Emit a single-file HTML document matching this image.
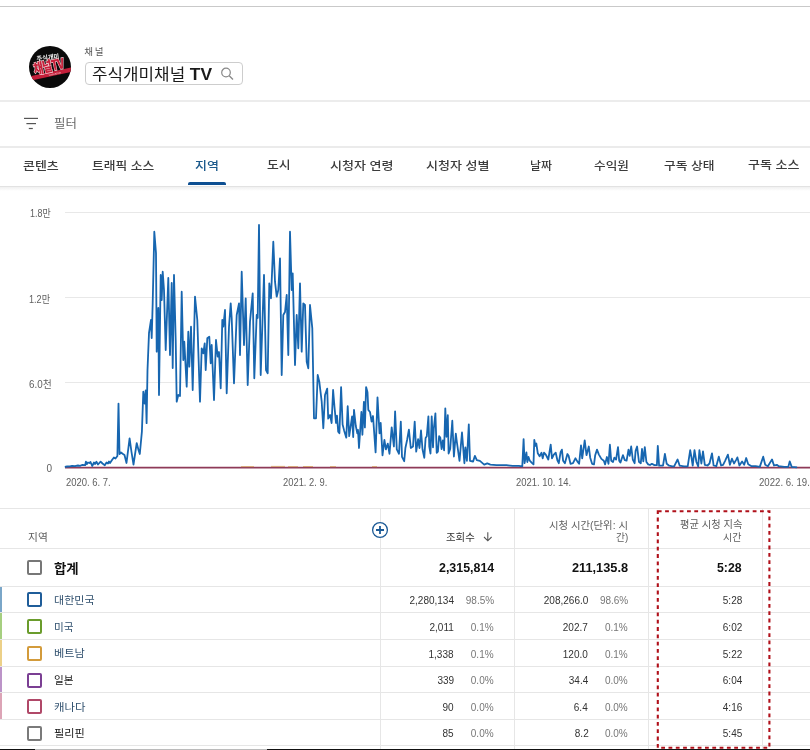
<!DOCTYPE html>
<html><head><meta charset="utf-8">
<style>
*{margin:0;padding:0;box-sizing:border-box}
html,body{width:810px;height:750px;overflow:hidden;background:#fff}
body{position:relative;font-family:"Liberation Sans","Noto Sans CJK KR",sans-serif;color:#222}
.a{position:absolute}
.t{position:absolute;white-space:nowrap;line-height:20px}
.hl{position:absolute;left:0;width:810px}
.gl{position:absolute;left:65px;width:745px;height:1px;background:#e8e8e8}
.cb{position:absolute;left:27px;width:15px;height:15px;border:2px solid #777;border-radius:2px}
.vl{position:absolute;width:1px;background:#e6e6e6}
</style></head><body>
<div class="hl" style="top:6px;height:1px;background:#c9c9c9"></div>

<svg class="a" style="left:28px;top:45px" width="44" height="44" viewBox="0 0 44 44">
<defs><clipPath id="lc"><circle cx="22" cy="22" r="21"/></clipPath></defs>
<circle cx="22" cy="22" r="21" fill="#0a0a0a"/>
<g clip-path="url(#lc)">
<polygon points="0,31.8 44,22.4 44,26.8 0,36.2" fill="#c41f3a"/>
<text x="27" y="29.6" font-size="2.6" fill="#f3c0c8" text-anchor="middle" font-family="Liberation Sans" transform="rotate(-12 27 28.6)">www.ant.tv</text>
</g>
<text x="19.8" y="14.6" font-size="6.2" font-weight="700" fill="#f4f4f4" text-anchor="middle" font-family="Noto Sans CJK KR" transform="rotate(-7 19.8 11.5)">주식개미</text>
<g transform="translate(20.6 21.5) rotate(-12) scale(1 1.35)">
<text x="0" y="3.6" font-size="10.5" font-weight="900" fill="#c8203a" stroke="#f2d0d5" stroke-width="1" paint-order="stroke" text-anchor="middle" font-family="Noto Sans CJK KR" letter-spacing="-0.6">채널TV</text>
</g>
</svg>

<div class="a" style="left:85px;top:62px;width:158px;height:23px;border:1px solid #cdcdcd;border-radius:4px;background:#fff"></div>
<svg class="a" style="left:219px;top:66px" width="16" height="16" viewBox="0 0 16 16">
<circle cx="7" cy="6.5" r="4.3" fill="none" stroke="#888" stroke-width="1.2"/>
<line x1="10.2" y1="9.7" x2="14" y2="13.5" stroke="#888" stroke-width="1.3"/>
</svg>

<div class="hl" style="top:100px;height:2px;background:#ececec"></div>

<svg class="a" style="left:22px;top:114px" width="20" height="18" viewBox="0 0 20 18">
<rect x="2" y="3.8" width="14" height="1.2" fill="#555"/>
<rect x="4.4" y="9" width="9.6" height="1.2" fill="#555"/>
<rect x="6.8" y="13.9" width="4" height="1.2" fill="#555"/>
</svg>

<div class="hl" style="top:146px;height:2px;background:#ebebeb"></div>

<div class="a" style="left:188px;top:182px;width:38px;height:3px;background:#0d4f92;border-radius:2px 2px 0 0"></div>
<div class="hl" style="top:185.5px;height:1.5px;background:#e2e2e2"></div>
<div class="hl" style="top:187px;height:4px;background:linear-gradient(#f0f0f0,#fff)"></div>

<div class="gl" style="top:212px"></div>
<div class="gl" style="top:297px"></div>
<div class="gl" style="top:382px"></div>
<svg class="a" style="left:0;top:0" width="810" height="500" viewBox="0 0 810 500">
<line x1="65" y1="467.6" x2="810" y2="467.6" stroke="#8e3a58" stroke-width="1.6"/>
<path d="M241 466.6h13M271 466.4h14M288 466.6h10M303 466.5h10M330 466.6h6M372 466.6h5" stroke="#d39b5b" stroke-width="1" opacity="0.8"/>
<path d="M64.8 466.8 L67.0 466.5 L70.0 466.3 L72.0 465.8 L75.0 466.2 L78.0 465.5 L80.0 465.8 L82.0 465.0 L85.2 465.2 L85.9 461.7 L87.0 464.0 L88.0 462.5 L89.5 463.0 L90.5 462.0 L92.2 466.0 L94.0 462.5 L95.0 464.0 L96.4 461.7 L98.0 464.5 L100.6 461.7 L102.5 463.5 L104.8 465.2 L106.5 462.5 L108.0 463.5 L109.0 461.5 L110.0 463.0 L112.0 460.0 L113.9 457.5 L115.5 458.5 L117.4 456.0 L118.5 403.6 L119.5 454.0 L121.0 452.5 L123.0 454.0 L124.5 455.0 L126.5 463.0 L129.6 438.3 L131.5 452.0 L133.5 464.5 L136.7 443.1 L138.5 450.0 L139.8 454.0 L141.9 431.6 L143.3 391.7 L144.7 403.6 L145.7 390.3 L146.6 423.2 L147.5 370.0 L149.0 333.0 L151.0 320.0 L151.7 338.0 L152.7 303.0 L154.3 231.7 L156.0 253.0 L156.7 351.7 L158.3 308.0 L159.0 395.0 L160.7 275.0 L161.7 300.0 L162.7 271.7 L164.0 290.0 L165.7 350.0 L168.3 278.0 L170.0 355.0 L171.7 283.0 L172.7 368.0 L174.0 275.0 L175.7 340.0 L176.7 401.7 L178.3 395.0 L180.0 396.0 L181.7 291.7 L183.3 360.0 L184.3 341.7 L186.7 386.7 L188.3 331.7 L189.3 366.7 L191.0 326.7 L192.7 390.0 L195.0 296.7 L197.3 320.0 L200.0 401.7 L201.7 348.3 L203.3 353.3 L204.7 343.3 L205.7 370.0 L207.3 338.3 L209.3 336.7 L210.7 363.3 L211.7 345.0 L214.0 400.0 L216.0 340.0 L217.7 356.7 L219.0 352.0 L220.7 388.3 L222.3 320.0 L223.3 326.7 L225.0 310.0 L226.7 393.3 L229.0 326.7 L230.7 303.3 L231.7 318.3 L234.0 383.3 L236.7 315.0 L239.0 303.3 L240.0 355.0 L241.7 271.7 L244.0 345.0 L245.7 298.3 L247.7 385.0 L250.0 321.7 L252.7 293.3 L254.3 378.3 L256.7 315.0 L257.7 318.0 L259.0 225.0 L260.7 375.0 L262.7 315.0 L264.0 275.0 L266.0 370.0 L267.7 373.3 L269.3 283.3 L271.0 298.3 L273.3 241.7 L275.0 281.7 L276.7 296.7 L278.3 290.0 L280.0 258.3 L281.7 375.0 L283.3 315.0 L285.0 312.0 L286.7 295.0 L288.3 355.0 L290.0 231.7 L291.7 290.0 L292.7 273.3 L295.0 365.0 L296.7 315.0 L298.3 348.3 L300.0 283.3 L301.7 351.7 L303.3 303.3 L305.0 305.0 L306.7 361.7 L308.3 368.3 L310.0 305.0 L312.3 328.3 L314.0 418.3 L316.0 418.3 L317.7 375.0 L319.3 381.7 L321.7 401.7 L323.3 428.3 L325.0 395.0 L327.2 388.6 L328.2 418.7 L330.1 415.0 L331.6 423.0 L333.1 390.0 L334.5 407.0 L336.0 423.0 L337.0 415.7 L338.2 431.8 L339.4 433.3 L341.1 387.1 L342.6 424.5 L344.1 430.4 L346.3 437.7 L347.7 406.2 L349.2 436.2 L352.1 416.5 L353.2 437.0 L354.0 409.9 L355.8 426.0 L357.3 433.3 L358.0 430.0 L359.0 448.0 L361.4 412.0 L362.4 434.8 L363.9 401.8 L364.9 427.4 L366.1 387.1 L367.5 392.3 L368.3 409.9 L370.0 412.0 L371.6 421.6 L373.0 416.0 L375.6 452.4 L377.5 397.4 L379.5 433.3 L380.7 423.0 L382.5 455.3 L384.4 440.0 L385.9 449.4 L387.8 443.6 L389.5 453.8 L391.7 427.4 L393.9 446.5 L395.1 411.3 L396.8 449.4 L399.0 453.8 L400.8 421.6 L402.0 456.8 L404.2 461.2 L405.4 448.0 L407.1 440.0 L408.9 429.6 L410.8 448.0 L413.0 446.5 L414.7 421.6 L416.2 451.6 L418.1 439.2 L419.5 448.0 L421.0 430.5 L422.5 449.2 L424.3 457.8 L425.6 438.0 L426.8 436.2 L428.4 416.4 L429.3 446.7 L430.5 453.5 L431.7 416.4 L433.0 447.3 L433.8 428.8 L435.4 413.3 L436.7 452.8 L437.9 451.6 L439.1 436.2 L440.3 437.5 L441.6 449.1 L442.8 440.5 L444.1 450.4 L445.3 408.4 L446.5 436.8 L447.8 415.2 L448.6 453.5 L450.2 449.0 L452.3 420.7 L453.9 456.5 L455.8 433.7 L457.0 443.0 L459.5 460.9 L462.0 432.5 L464.4 463.3 L465.4 447.3 L466.9 460.9 L468.8 424.4 L470.0 460.9 L473.1 461.5 L474.9 455.9 L476.8 460.2 L479.9 460.9 L484.2 464.6 L487.3 463.3 L490.4 464.6 L496.5 465.2 L506.4 465.2 L512.6 465.8 L518.8 465.8 L522.3 466.3 L523.6 439.1 L524.6 463.2 L526.4 452.3 L527.3 462.0 L528.5 457.0 L529.8 460.7 L531.6 462.6 L533.5 464.4 L534.3 439.8 L535.3 445.9 L536.3 443.5 L537.8 453.3 L539.6 456.4 L541.5 452.7 L542.7 458.3 L544.0 452.7 L545.8 454.6 L547.0 457.0 L548.3 459.5 L550.7 444.7 L552.0 458.3 L553.8 454.6 L555.7 452.7 L557.5 460.7 L558.8 463.2 L560.6 452.1 L561.9 449.6 L563.1 460.7 L564.9 463.2 L567.4 454.0 L568.6 455.8 L570.5 463.8 L573.0 463.2 L575.4 458.3 L577.3 461.4 L579.1 463.8 L581.0 445.3 L582.2 458.3 L584.7 440.4 L586.5 455.2 L588.8 446.5 L590.2 457.7 L592.1 463.8 L594.0 464.4 L595.2 455.2 L597.0 449.6 L598.9 454.6 L601.4 458.9 L603.8 460.7 L605.1 464.4 L606.9 457.0 L608.5 463.8 L609.9 444.7 L611.2 460.7 L613.0 462.0 L614.3 457.7 L616.1 459.5 L618.0 447.2 L619.2 460.7 L620.4 462.6 L622.9 455.2 L624.8 460.1 L626.6 460.7 L628.5 449.6 L629.7 455.8 L631.2 446.5 L632.8 459.5 L634.6 463.2 L635.6 450.9 L637.1 446.5 L639.0 462.0 L640.8 463.2 L642.0 449.0 L643.3 461.4 L644.8 447.2 L646.4 462.0 L648.2 464.4 L650.0 465.0 L651.9 463.8 L654.4 465.1 L656.9 465.1 L657.8 445.9 L659.1 465.7 L663.0 465.7 L664.9 454.0 L666.7 463.8 L669.2 465.7 L672.3 466.3 L674.1 466.3 L677.6 459.5 L679.7 465.7 L684.0 466.3 L687.7 466.3 L690.2 450.2 L691.4 457.0 L692.7 465.7 L694.5 450.2 L696.4 462.0 L698.2 466.3 L699.4 450.2 L701.4 463.5 L703.0 451.3 L704.8 464.8 L707.5 465.5 L709.5 463.5 L712.0 453.3 L713.6 465.5 L716.3 466.2 L718.8 456.7 L721.1 465.5 L723.1 464.8 L725.1 460.8 L727.9 454.6 L729.9 464.8 L731.9 458.7 L734.0 463.5 L736.0 460.1 L737.4 457.4 L739.4 465.5 L742.1 461.4 L744.2 464.8 L746.2 458.0 L748.2 464.2 L751.6 466.2 L755.7 466.2 L759.8 466.9 L763.2 456.7 L765.2 464.8 L767.9 466.2 L772.0 459.4 L774.0 465.5 L776.8 464.8 L778.8 466.2 L784.2 466.9 L788.3 466.9 L789.7 461.4 L791.7 466.9 L797.1 467.3" fill="none" stroke="#1766b0" stroke-width="1.8" stroke-linejoin="round"/>
</svg>

<div class="hl" style="top:508px;height:1px;background:#e6e6e6"></div>
<div class="hl" style="top:548px;height:1px;background:#e6e6e6"></div>
<div class="hl" style="top:586px;height:1px;background:#e6e6e6"></div>
<div class="hl" style="top:612px;height:1px;background:#e6e6e6"></div>
<div class="hl" style="top:639px;height:1px;background:#e6e6e6"></div>
<div class="hl" style="top:666px;height:1px;background:#e6e6e6"></div>
<div class="hl" style="top:692px;height:1px;background:#e6e6e6"></div>
<div class="hl" style="top:719px;height:1px;background:#e6e6e6"></div>
<div class="hl" style="top:745px;height:1px;background:#e6e6e6"></div>
<div class="vl" style="left:380px;top:509px;height:240px"></div>
<div class="vl" style="left:514px;top:509px;height:240px"></div>
<div class="vl" style="left:648px;top:509px;height:240px"></div>
<div class="vl" style="left:762px;top:509px;height:240px"></div>

<svg class="a" style="left:371px;top:521px" width="18" height="18" viewBox="0 0 18 18">
<circle cx="9" cy="9" r="7.4" fill="#fff" stroke="#1c5a96" stroke-width="1.3"/>
<path d="M9 5v8M5 9h8" stroke="#1c5a96" stroke-width="1.8"/>
</svg>
<svg class="a" style="left:482px;top:530px" width="12" height="12" viewBox="0 0 12 12">
<path d="M5.8 2.2v8.4M2 7l3.8 3.8L9.6 7" fill="none" stroke="#555" stroke-width="1.1"/>
</svg>

<div class="cb" style="top:560px"></div>
<div class="a" style="left:0;top:587px;width:2px;height:25px;background:#7aa6c8"></div>
<div class="cb" style="top:592.2px;border-color:#1f5d99"></div>
<div class="a" style="left:0;top:613px;width:2px;height:26px;background:#a6cf80"></div>
<div class="cb" style="top:619.3px;border-color:#6a9c2c"></div>
<div class="a" style="left:0;top:640px;width:2px;height:26px;background:#ecd088"></div>
<div class="cb" style="top:645.6px;border-color:#d39b3b"></div>
<div class="a" style="left:0;top:667px;width:2px;height:25px;background:#bc94c8"></div>
<div class="cb" style="top:672.5px;border-color:#7b3f93"></div>
<div class="a" style="left:0;top:693px;width:2px;height:26px;background:#dca4b6"></div>
<div class="cb" style="top:699.0px;border-color:#b04868"></div>
<div class="cb" style="top:725.5px;border-color:#7a7a7a"></div>
<div class="t" style="left:84.30px;top:42.40px;font-size:9.5px;color:#555;letter-spacing:1.6px;">채널</div>
<div class="t" style="left:92.31px;top:65.30px;font-size:15.5px;color:#1a1a1a;transform:scaleX(1.089);transform-origin:0 0;">주식개미채널 <span style="font-size:16px;font-weight:700">TV</span></div>
<div class="t" style="left:54.37px;top:114.40px;font-size:12px;color:#666;transform:scaleX(1.035);transform-origin:0 0;">필터</div>
<div class="t" style="left:22.57px;top:156.40px;font-size:11.5px;font-weight:500;color:#3c3c3c;transform:scaleX(1.127);transform-origin:0 0;">콘텐츠</div>
<div class="t" style="left:92.39px;top:156.40px;font-size:11.5px;font-weight:500;color:#3c3c3c;transform:scaleX(1.109);transform-origin:0 0;">트래픽 소스</div>
<div class="t" style="left:195.37px;top:156.40px;font-size:11.5px;font-weight:500;color:#1c5a8c;transform:scaleX(1.132);transform-origin:0 0;">지역</div>
<div class="t" style="left:267.28px;top:155.40px;font-size:11.5px;font-weight:500;color:#3c3c3c;transform:scaleX(1.116);transform-origin:0 0;">도시</div>
<div class="t" style="left:330.27px;top:156.40px;font-size:11.5px;font-weight:500;color:#3c3c3c;transform:scaleX(1.133);transform-origin:0 0;">시청자 연령</div>
<div class="t" style="left:426.07px;top:156.40px;font-size:11.5px;font-weight:500;color:#3c3c3c;transform:scaleX(1.133);transform-origin:0 0;">시청자 성별</div>
<div class="t" style="left:530.37px;top:156.40px;font-size:11.5px;font-weight:500;color:#3c3c3c;transform:scaleX(1.035);transform-origin:0 0;">날짜</div>
<div class="t" style="left:594.40px;top:156.40px;font-size:11.5px;font-weight:500;color:#3c3c3c;transform:scaleX(1.100);transform-origin:0 0;">수익원</div>
<div class="t" style="left:664.19px;top:156.40px;font-size:11.5px;font-weight:500;color:#3c3c3c;transform:scaleX(1.109);transform-origin:0 0;">구독 상태</div>
<div class="t" style="left:747.67px;top:155.40px;font-size:11.5px;font-weight:500;color:#3c3c3c;transform:scaleX(1.132);transform-origin:0 0;">구독 소스</div>
<div class="t" style="left:29.80px;top:204.40px;font-size:10px;color:#606060;transform:scaleX(0.895);transform-origin:0 0;">1.8만</div>
<div class="t" style="left:29.49px;top:289.70px;font-size:10px;color:#606060;transform:scaleX(0.909);transform-origin:0 0;">1.2만</div>
<div class="t" style="left:28.82px;top:375.00px;font-size:10px;color:#606060;transform:scaleX(0.981);transform-origin:0 0;">6.0천</div>
<div class="t" style="left:46.40px;top:459.40px;font-size:10px;color:#606060;">0</div>
<div class="t" style="left:65.80px;top:473.00px;font-size:10px;color:#606060;transform:scaleX(0.946);transform-origin:0 0;">2020. 6. 7.</div>
<div class="t" style="left:282.50px;top:473.00px;font-size:10px;color:#606060;transform:scaleX(0.937);transform-origin:0 0;">2021. 2. 9.</div>
<div class="t" style="left:516.10px;top:473.00px;font-size:10px;color:#606060;transform:scaleX(0.946);transform-origin:0 0;">2021. 10. 14.</div>
<div class="t" style="left:758.90px;top:473.00px;font-size:10px;color:#606060;transform:scaleX(0.962);transform-origin:0 0;">2022. 6. 19.</div>
<div class="t" style="left:28.32px;top:527.80px;font-size:10px;color:#606060;transform:scaleX(1.075);transform-origin:0 0;">지역</div>
<div class="t" style="left:445.76px;top:527.70px;font-size:10px;color:#333;transform:scaleX(1.042);transform-origin:0 0;">조회수</div>
<div class="t" style="left:548.86px;top:515.60px;font-size:10px;color:#606060;transform:scaleX(1.038);transform-origin:0 0;">시청 시간(단위: 시</div>
<div class="t" style="left:615.63px;top:528.00px;font-size:10px;color:#606060;transform:scaleX(0.973);transform-origin:0 0;">간)</div>
<div class="t" style="left:679.57px;top:515.10px;font-size:10px;color:#606060;transform:scaleX(1.027);transform-origin:0 0;">평균 시청 지속</div>
<div class="t" style="left:723.11px;top:528.30px;font-size:10px;color:#606060;">시간</div>
<div class="t" style="left:54.27px;top:559.10px;font-size:13px;font-weight:700;color:#111;transform:scaleX(1.032);transform-origin:0 0;">합계</div>
<div class="t" style="left:438.50px;top:558.10px;font-size:13px;font-weight:700;color:#111;transform:scaleX(0.955);transform-origin:0 0;">2,315,814</div>
<div class="t" style="left:571.50px;top:558.10px;font-size:13px;font-weight:700;color:#111;transform:scaleX(0.981);transform-origin:0 0;">211,135.8</div>
<div class="t" style="left:717.26px;top:558.10px;font-size:13px;font-weight:700;color:#111;transform:scaleX(0.944);transform-origin:0 0;">5:28</div>
<div class="t" style="left:54.35px;top:589.80px;font-size:10.5px;color:#30506e;transform:scaleX(1.051);transform-origin:0 0;">대한민국</div>
<div class="t" style="left:409.50px;top:591.10px;font-size:10px;color:#333;">2,280,134</div>
<div class="t" style="left:465.80px;top:591.10px;font-size:10px;color:#777;">98.5%</div>
<div class="t" style="left:543.80px;top:591.10px;font-size:10px;color:#333;">208,266.0</div>
<div class="t" style="left:599.90px;top:591.10px;font-size:10px;color:#777;">98.6%</div>
<div class="t" style="left:722.80px;top:591.10px;font-size:10px;color:#333;">5:28</div>
<div class="t" style="left:54.39px;top:616.90px;font-size:10.5px;color:#30506e;transform:scaleX(1.011);transform-origin:0 0;">미국</div>
<div class="t" style="left:429.50px;top:618.20px;font-size:10px;color:#333;">2,011</div>
<div class="t" style="left:470.80px;top:618.20px;font-size:10px;color:#777;">0.1%</div>
<div class="t" style="left:562.80px;top:618.20px;font-size:10px;color:#333;">202.7</div>
<div class="t" style="left:604.90px;top:618.20px;font-size:10px;color:#777;">0.1%</div>
<div class="t" style="left:722.80px;top:618.20px;font-size:10px;color:#333;">6:02</div>
<div class="t" style="left:54.34px;top:643.20px;font-size:10.5px;color:#30506e;transform:scaleX(1.063);transform-origin:0 0;">베트남</div>
<div class="t" style="left:428.50px;top:644.50px;font-size:10px;color:#333;">1,338</div>
<div class="t" style="left:470.80px;top:644.50px;font-size:10px;color:#777;">0.1%</div>
<div class="t" style="left:562.80px;top:644.50px;font-size:10px;color:#333;">120.0</div>
<div class="t" style="left:604.90px;top:644.50px;font-size:10px;color:#777;">0.1%</div>
<div class="t" style="left:722.80px;top:644.50px;font-size:10px;color:#333;">5:22</div>
<div class="t" style="left:54.39px;top:670.10px;font-size:10.5px;color:#222;transform:scaleX(1.011);transform-origin:0 0;">일본</div>
<div class="t" style="left:437.50px;top:671.40px;font-size:10px;color:#333;">339</div>
<div class="t" style="left:470.80px;top:671.40px;font-size:10px;color:#777;">0.0%</div>
<div class="t" style="left:568.80px;top:671.40px;font-size:10px;color:#333;">34.4</div>
<div class="t" style="left:604.90px;top:671.40px;font-size:10px;color:#777;">0.0%</div>
<div class="t" style="left:722.80px;top:671.40px;font-size:10px;color:#333;">6:04</div>
<div class="t" style="left:54.31px;top:696.60px;font-size:10.5px;color:#30506e;transform:scaleX(1.085);transform-origin:0 0;">캐나다</div>
<div class="t" style="left:442.50px;top:697.90px;font-size:10px;color:#333;">90</div>
<div class="t" style="left:470.80px;top:697.90px;font-size:10px;color:#777;">0.0%</div>
<div class="t" style="left:573.80px;top:697.90px;font-size:10px;color:#333;">6.4</div>
<div class="t" style="left:604.90px;top:697.90px;font-size:10px;color:#777;">0.0%</div>
<div class="t" style="left:722.80px;top:697.90px;font-size:10px;color:#333;">4:16</div>
<div class="t" style="left:54.34px;top:723.10px;font-size:10.5px;color:#222;transform:scaleX(1.063);transform-origin:0 0;">필리핀</div>
<div class="t" style="left:442.50px;top:724.40px;font-size:10px;color:#333;">85</div>
<div class="t" style="left:470.80px;top:724.40px;font-size:10px;color:#777;">0.0%</div>
<div class="t" style="left:574.80px;top:724.40px;font-size:10px;color:#333;">8.2</div>
<div class="t" style="left:604.90px;top:724.40px;font-size:10px;color:#777;">0.0%</div>
<div class="t" style="left:722.80px;top:724.40px;font-size:10px;color:#333;">5:45</div>

<svg class="a" style="left:650px;top:505px" width="128" height="250" viewBox="0 0 128 250">
<rect x="7.8" y="6.2" width="111.6" height="236.6" fill="none" stroke="#b0101a" stroke-width="2.1" stroke-dasharray="3.8 3.5"/>
</svg>
<div class="a" style="left:0;top:749px;width:35px;height:1px;background:#111"></div>
<div class="a" style="left:35px;top:749px;width:232px;height:1px;background:#bbb"></div>
<div class="a" style="left:267px;top:749px;width:543px;height:1px;background:#111"></div>
</body></html>
